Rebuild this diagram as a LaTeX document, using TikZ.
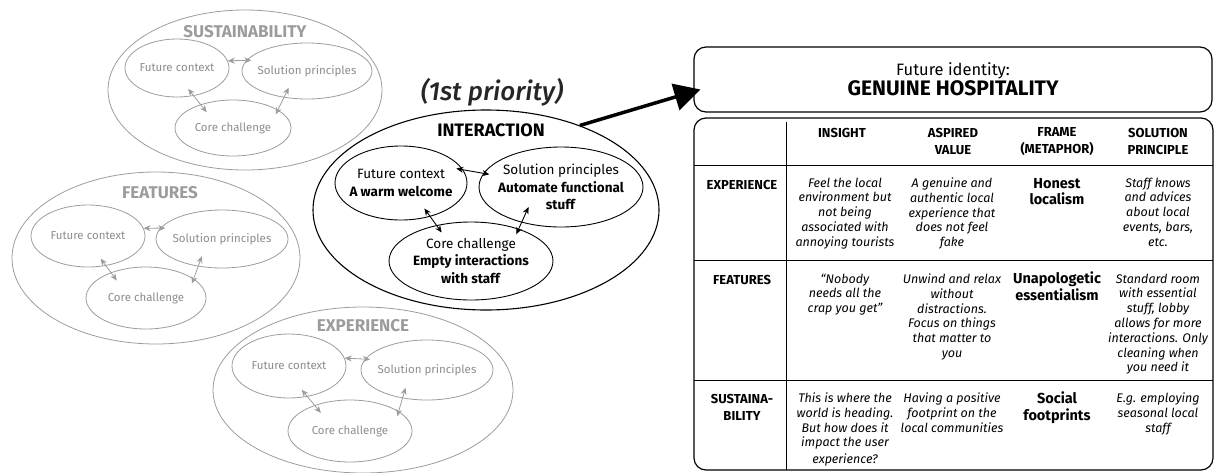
\documentclass[tikz,border=0pt]{standalone}
\usepackage{fontspec}
\setmainfont{Fira Sans}[BoldFont={Fira Sans Bold},ItalicFont={Fira Sans Italic},BoldItalicFont={Fira Sans Bold Italic}]
\newfontfamily\priofont{Fira Sans Medium Italic}
\usetikzlibrary{shapes.geometric,arrows.meta}

\definecolor{faded}{HTML}{9C9C9C}
\definecolor{fadedtext}{HTML}{8C8C8C}

\tikzstyle{theme}=[ellipse,draw=faded,line width=0.8pt,inner sep=0pt]
\tikzstyle{focus}=[ellipse,draw=black,line width=1.1pt,inner sep=0pt]
\tikzstyle{themename}=[font=\fontsize{17}{20}\selectfont\bfseries,text=faded,inner sep=0pt]
\tikzstyle{focusname}=[font=\fontsize{18}{20}\selectfont\bfseries,inner sep=0pt]
\tikzstyle{garrow}=[draw=faded,line width=0.8pt,{Stealth[length=7pt,width=6pt]}-{Stealth[length=7pt,width=6pt]}]
\tikzstyle{iarrow}=[draw=black,line width=0.9pt,{Stealth[length=7pt,width=6pt]}-{Stealth[length=7pt,width=6pt]}]
\tikzstyle{bigarrow}=[line width=3.5pt,-{Triangle[length=26pt,width=27pt]}]
\tikzstyle{roundbox}=[draw,line width=1.2pt,rounded corners=12pt,inner sep=0pt]
\tikzstyle{grid}=[line width=1pt]
\tikzstyle{head}=[font=\fontsize{13}{17}\selectfont\bfseries,align=center,inner sep=0pt]
\tikzstyle{cell}=[font=\fontsize{12.5}{14.8}\selectfont\itshape,align=center,inner sep=0pt,anchor=north]
\tikzstyle{frame}=[font=\fontsize{14.5}{16.5}\selectfont\bfseries,align=center,inner sep=0pt,anchor=north]
\tikzset{
  part/.style={theme,label={[text=fadedtext,font=\fontsize{11.5}{14}\selectfont]center:#1}},
  ipart/.style={focus,line width=0.9pt,
    label={[align=center,font=\fontsize{13.5}{17.5}\selectfont]center:#1}}
}

\begin{document}
\begin{tikzpicture}[x=1pt,y=-1pt]
  \useasboundingbox (0,0) rectangle (1216,472);

  %Sustainability
  \node[theme,minimum width=274pt,minimum height=160pt] (sout) at (245,90) {};
  \node[themename] (sname) at (245,32) {SUSTAINABILITY};
  \node[part=Future context,minimum width=104pt,minimum height=58pt] (sfc) at (177,68) {};
  \node[part=Solution principles,minimum width=130pt,minimum height=56pt] (ssp) at (307,71) {};
  \node[part=Core challenge,minimum width=116pt,minimum height=56pt] (scc) at (233,128) {};
  \draw[garrow,shorten >=-5pt] (sfc.8) -- (ssp.170);
  \draw[garrow,shorten <=-9pt,shorten >=-10pt] (sfc.-59) -- (scc.144);
  \draw[garrow,shorten <=-11pt,shorten >=-5pt] (ssp.229) -- (scc.22);

  %Features
  \node[theme,minimum width=288pt,minimum height=172pt] (fout) at (156,258) {};
  \node[themename] (fname) at (160,193) {FEATURES};
  \node[part=Future context,minimum width=114pt,minimum height=62pt] (ffc) at (88,236) {};
  \node[part=Solution principles,minimum width=132pt,minimum height=58pt] (fsp) at (222,239) {};
  \node[part=Core challenge,minimum width=120pt,minimum height=62pt] (fcc) at (146,298) {};
  \draw[garrow,shorten >=-5pt] (ffc.8) -- (fsp.170);
  \draw[garrow,shorten <=-9pt,shorten >=-10pt] (ffc.-59) -- (fcc.144);
  \draw[garrow,shorten <=-11pt,shorten >=-5pt] (fsp.229) -- (fcc.22);

  %Experience
  \node[theme,minimum width=300pt,minimum height=166pt] (eout) at (363,390) {};
  \node[themename] (ename) at (363,326) {EXPERIENCE};
  \node[part=Future context,minimum width=114pt,minimum height=64pt] (efc) at (289,366) {};
  \node[part=Solution principles,minimum width=132pt,minimum height=60pt] (esp) at (427,370) {};
  \node[part=Core challenge,minimum width=124pt,minimum height=62pt] (ecc) at (350,431) {};
  \draw[garrow,shorten >=-5pt] (efc.8) -- (esp.170);
  \draw[garrow,shorten <=-9pt,shorten >=-10pt] (efc.-59) -- (ecc.144);
  \draw[garrow,shorten <=-11pt,shorten >=-5pt] (esp.229) -- (ecc.22);

  %Interaction (1st priority)
  \node[font=\fontsize{26}{30}\priofont,text=black!85,inner sep=0pt] (prio) at (492,92) {(1st priority)};
  \node[focus,minimum width=346pt,minimum height=200pt] (iout) at (486,210) {};
  \node[focusname] (iname) at (491,130) {INTERACTION};
  \node[ipart={Future context\\\textbf{A warm welcome}},minimum width=132pt,minimum height=74pt] (ifc) at (401,183) {};
  \node[ipart={Solution principles\\\textbf{Automate functional}\\\textbf{stuff}},minimum width=164pt,minimum height=80pt] (isp) at (561,187) {};
  \node[ipart={Core challenge\\\textbf{Empty interactions}\\\textbf{with staff}},minimum width=164pt,minimum height=78pt] (icc) at (471,261) {};
  \draw[iarrow,shorten <=-7pt,shorten >=-6pt] (ifc.12) -- (isp.170);
  \draw[iarrow,shorten <=-10pt,shorten >=-9pt] (ifc.-49) -- (icc.134);
  \draw[iarrow,shorten <=-17pt,shorten >=-6pt] (isp.222) -- (icc.34);

  %Future identity
  \node[roundbox,minimum width=518pt,minimum height=65pt,align=center] (fid) at (953,79.5)
    {{\fontsize{16.5}{18}\selectfont Future identity:}\\[1pt]{\fontsize{21}{22}\selectfont\bfseries GENUINE HOSPITALITY}};
  \draw[bigarrow] (iout.42) -- ([xshift=7pt,yshift=-10pt]fid.west);

  %Table
  \node[roundbox,minimum width=519pt,minimum height=352pt] (tbl) at (953.5,294) {};
  \draw[grid] (786,122) -- (786,470);
  \foreach \y in {165,260,380}
    \draw[grid] (694,\y) -- (1213,\y);

  %Column and row heads
  \foreach \pos/\name/\txt in {{(842,133)/hins/INSIGHT}, {(953,141.5)/hval/ASPIRED\\VALUE},
                               {(1057,141.5)/hfrm/FRAME\\(METAPHOR)}, {(1158,141.5)/hsol/SOLUTION\\PRINCIPLE},
                               {(742,185)/rexp/EXPERIENCE}, {(742,280)/rfea/FEATURES},
                               {(742,407.5)/rsus/SUSTAINA-\\BILITY}}
    \node[head] (\name) at \pos {\txt};

  %Experience row
  \node[cell] (c11) at (845,177.5) {Feel the local\\environment but\\not being\\associated with\\annoying tourists};
  \node[cell] (c12) at (952,177.5) {A genuine and\\authentic local\\experience that\\does not feel\\fake};
  \node[frame] (c13) at (1057,178) {Honest\\localism};
  \node[cell] (c14) at (1158,177.5) {Staff knows\\and advices\\about local\\events, bars,\\etc.};

  %Features row
  \node[cell] (c21) at (845,273.5) {“Nobody\\needs all the\\crap you get”};
  \node[cell] (c22) at (952,273.5) {Unwind and relax\\without\\distractions.\\Focus on things\\that matter to\\you};
  \node[frame] (c23) at (1057,272) {Unapologetic\\essentialism};
  \node[cell] (c24) at (1158,273.5) {Standard room\\with essential\\stuff, lobby\\allows for more\\interactions. Only\\cleaning when\\you need it};

  %Sustainability row
  \node[cell] (c31) at (845,392.5) {This is where the\\world is heading.\\But how does it\\impact the user\\[2pt]experience?};
  \node[cell] (c32) at (952,392.5) {Having a positive\\footprint on the\\local communities};
  \node[frame] (c33) at (1057,392) {Social\\footprints};
  \node[cell] (c34) at (1158,392.5) {E.g. employing\\seasonal local\\staff};
\end{tikzpicture}
\end{document}
